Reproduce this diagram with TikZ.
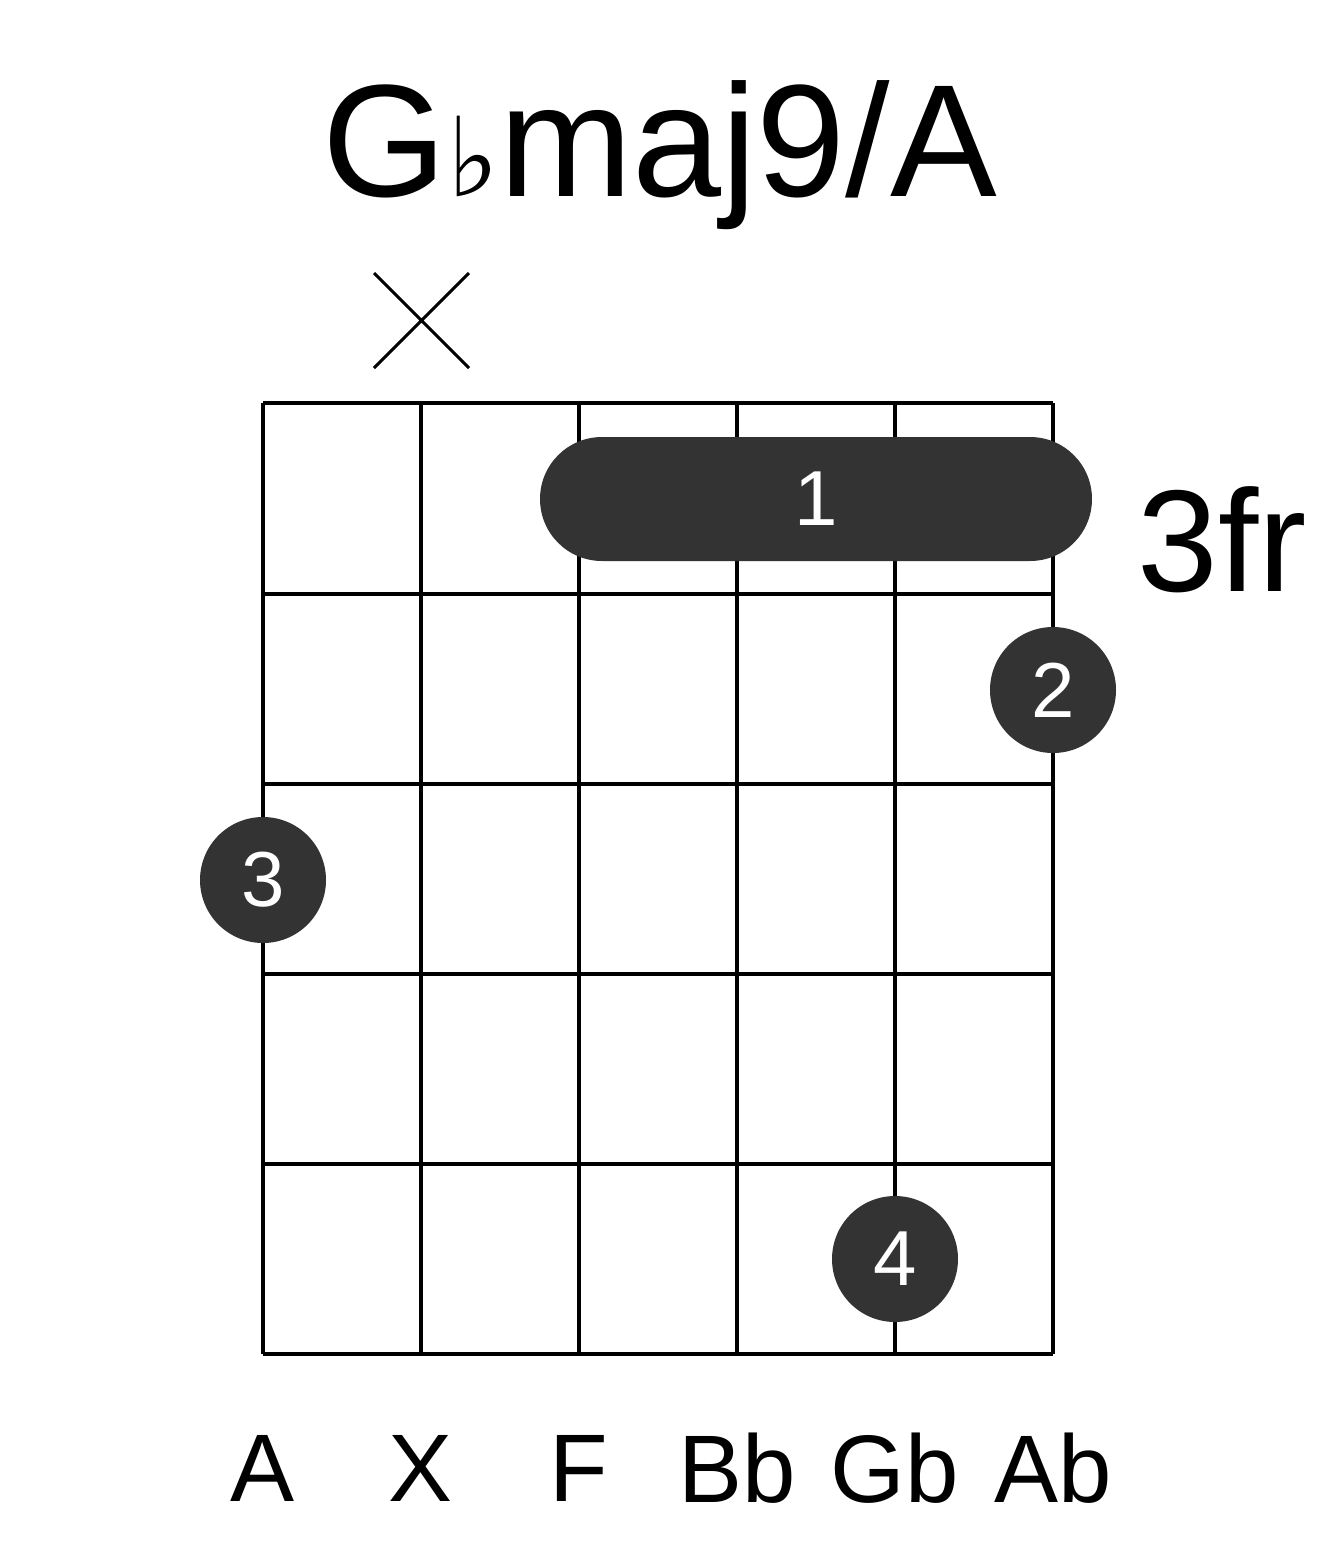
\documentclass[tikz,border=0pt]{standalone}
\usepackage{fontspec}
\setmainfont{Liberation Sans}
\newfontfamily\symf{DejaVu Sans}
\definecolor{dot}{HTML}{333333}
\begin{document}
\begin{tikzpicture}[x=1pt,y=-1pt,
  grid/.style={line width=4pt},
  finger/.style={circle,fill=dot,minimum size=126pt,inner sep=0pt,text=white,font=\fontsize{78}{80}\selectfont},
  lab/.style={font=\fontsize{96}{100}\selectfont}]
\useasboundingbox (0,0) rectangle (1317,1551);
\foreach \x in {263,421,579,737,895,1053} \draw[grid] (\x,403) -- (\x,1354);
\foreach \y in {403,594,784,974,1164,1354} \draw[grid] (263,\y) -- (1053,\y);
\node[font=\fontsize{160}{160}\selectfont] (title) at (660,155) {G{\symf\fontsize{110}{110}\selectfont ♭}maj9/A};
\draw[line width=3pt] (374,273) -- (469,368) (469,273) -- (374,368);
\fill[dot,rounded corners=62pt] (540,437) rectangle (1092,561);
\node[text=white,font=\fontsize{78}{80}\selectfont] (b1) at (816,499) {1};
\node[finger] (f2) at (1053,690) {2};
\node[finger] (f3) at (263,880) {3};
\node[finger] (f4) at (895,1259) {4};
\node[font=\fontsize{145}{150}\selectfont] (fr) at (1222,540) {3fr};
\foreach \x/\t in {263/A,421/X,579/F,737/Bb,895/Gb,1053/Ab}
  \node[lab] (s\t) at (\x,1468) {\t};
\end{tikzpicture}
\end{document}
